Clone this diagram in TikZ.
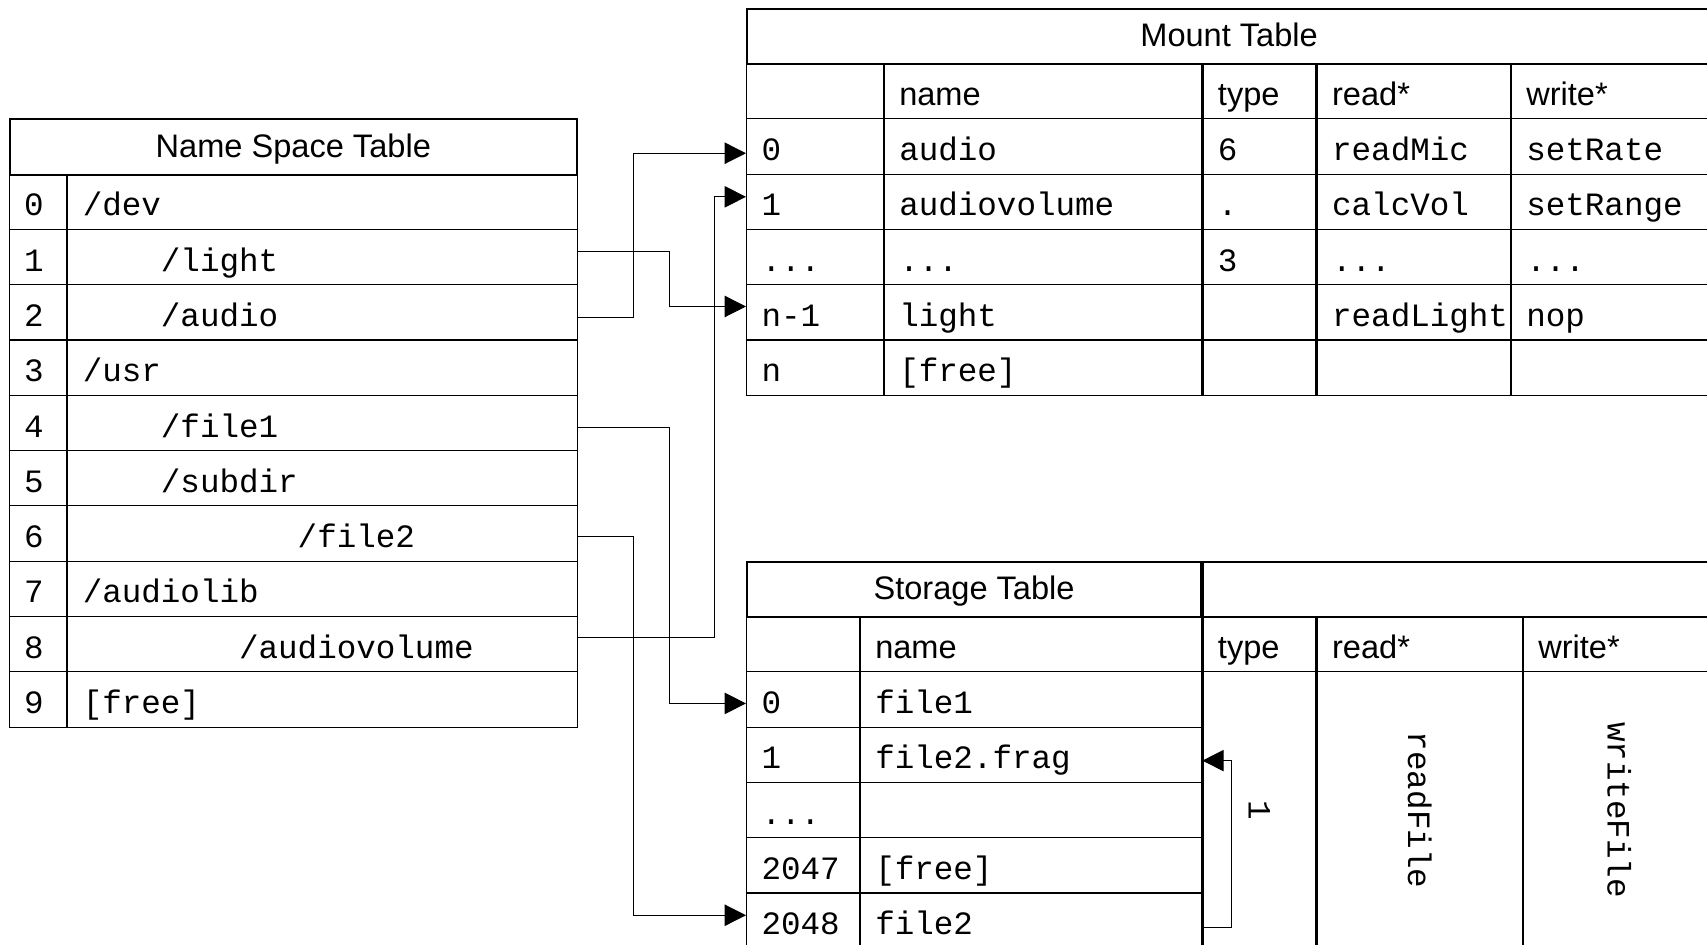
\documentclass[tikz,border=0pt]{standalone}
\usepackage{fontspec}
\setmainfont{Liberation Sans}
\setsansfont{Liberation Sans}
\setmonofont{Liberation Mono}
\usepackage{graphicx}
\usetikzlibrary{arrows.meta}

\newcommand\cellfont{\fontsize{13.9}{16}\selectfont}

\tikzset{
  cell/.style={draw, line width=0.5pt, anchor=north west, inner sep=0pt,
    minimum height=0.8295cm, text width=#1, align=left,
    text height=0.4745cm, text depth=0.05cm,
    execute at begin node={\hspace*{0.225cm}},
    font=\cellfont\ttfamily},
  head/.style={cell=#1, font=\cellfont\sffamily},
  title/.style={draw, line width=0.9pt, anchor=north west, inner sep=0pt,
    minimum height=0.8295cm, minimum width=#1,
    text height=0.3545cm, text depth=0.05cm, font=\cellfont\sffamily},
  tall/.style={draw, line width=0.5pt, anchor=north west, inner sep=0pt,
    minimum height=4.1475cm, minimum width=#1, font=\cellfont\ttfamily},
  link/.style={line width=0.5pt, -{Triangle[length=0.32cm, width=0.32cm]}}
}

\begin{document}
\begin{tikzpicture}[x=0.015cm, y=-0.015cm]
  \useasboundingbox (0,0) rectangle (1707,944);
  \clip (0,0) rectangle (1707,944);

  % name space table
  \foreach \i/\txt in {0/{/dev}, 1/{\hspace*{2.4em}/light}, 2/{\hspace*{2.4em}/audio},
      3/{/usr}, 4/{\hspace*{2.4em}/file1}, 5/{\hspace*{2.4em}/subdir},
      6/{\hspace*{6.6em}/file2}, 7/{/audiolib}, 8/{\hspace*{4.8em}/audiovolume},
      9/{[free]}} {
    \node[cell=0.8625cm] (nsi\i) at (8.5,173.5+55.3*\i) {\i};
    \node[cell=7.65cm] (nsn\i) at (nsi\i.north east) {\txt};
  }
  \node[title=8.5125cm] (ns) at (8.5,118.2) {Name Space Table};

  % mount table
  \node[head=2.0475cm] (mth) at (746,62.9) {};
  \node[head=4.7625cm] (mthn) at (mth.north east) {name};
  \node[head=1.695cm] (mtht) at (mthn.north east) {type};
  \node[head=2.895cm] (mthr) at (mtht.north east) {read*};
  \node[head=3.06cm] (mthw) at (mthr.north east) {write*};
  \foreach \i/\a/\b/\c/\d/\e in {0/0/audio/6/readMic/setRate,
      1/1/audiovolume/./calcVol/setRange, 2/{...}/{...}/3/{...}/{...},
      3/n-1/light//readLight/nop, 4/n/{[free]}///} {
    \node[cell=2.0475cm] (mti\i) at (746,118.2+55.3*\i) {\a};
    \node[cell=4.7625cm] (mtn\i) at (mti\i.north east) {\b};
    \node[cell=1.695cm] (mtt\i) at (mtn\i.north east) {\c};
    \node[cell=2.895cm] (mtr\i) at (mtt\i.north east) {\d};
    \node[cell=3.06cm] (mtw\i) at (mtr\i.north east) {\e};
  }
  \node[title=14.46cm] (mt) at (746,7.6) {Mount Table};

  % storage table
  \node[head=1.6875cm] (sth) at (746,615.9) {};
  \node[head=5.1225cm] (sthn) at (sth.north east) {name};
  \node[head=1.695cm] (stht) at (sthn.north east) {type};
  \node[head=3.075cm] (sthr) at (stht.north east) {read*};
  \node[head=2.88cm] (sthw) at (sthr.north east) {write*};
  \foreach \i/\a/\b in {0/0/file1, 1/1/file2.frag, 2/{...}/{}, 3/2047/{[free]}, 4/2048/file2} {
    \node[cell=1.6875cm] (sti\i) at (746,671.2+55.3*\i) {\a};
    \node[cell=5.1225cm] (stn\i) at (sti\i.north east) {\b};
  }
  \node[tall=1.695cm] (stt) at (stn0.north east) {\rotatebox{-90}{1}};
  \node[tall=3.075cm] (str) at (stt.north east) {\rotatebox{-90}{readFile}};
  \node[tall=2.88cm] (stw) at (str.north east) {\rotatebox{-90}{writeFile}};
  \node[title=6.81cm] (st) at (746,560.6) {Storage Table};
  \node[title=7.65cm] (stx) at (st.north east) {};

  % links
  \draw[link] ([yshift=-2.1pt]nsn2.east) -- ++(55,0) |- ([yshift=-2.9pt]mti0.west);
  \draw[link] ([yshift=2.5pt]nsn1.east) -- ++(91,0) |- ([yshift=2.5pt]mti3.west);
  \draw[link] ([yshift=2.8pt]nsn8.east) -- ++(136,0) |- ([yshift=2.1pt]mti1.west);
  \draw[link] ([yshift=-2.1pt]nsn4.east) -- ++(91,0) |- ([yshift=-1.7pt]sti0.west);
  \draw[link] ([yshift=-1.1pt]nsn6.east) -- ++(55,0) |- ([yshift=2.3pt]sti4.west);
  \draw[link] ([yshift=-3pt]stn4.east) -- ++(29,0) |- ([yshift=-2.5pt]stn1.east);
\end{tikzpicture}
\end{document}
